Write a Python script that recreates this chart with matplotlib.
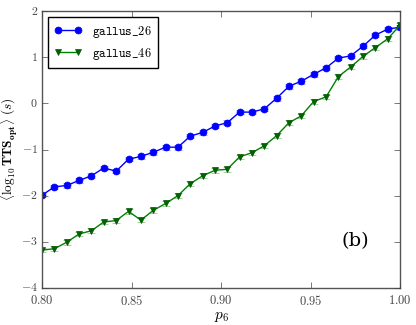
import matplotlib
matplotlib.use('Agg')
import matplotlib.pyplot as plt
from matplotlib.ticker import FuncFormatter
from matplotlib.lines import Line2D

plt.style.use('classic')
plt.rcParams['mathtext.fontset'] = 'cm'
plt.rcParams['font.family'] = 'serif'
plt.rcParams['font.serif'] = ['DejaVu Serif']

p6 = [0.8000, 0.8069, 0.8138, 0.8207, 0.8276, 0.8345, 0.8414, 0.8483, 0.8552, 0.8621,
      0.8690, 0.8759, 0.8828, 0.8897, 0.8966, 0.9034, 0.9103, 0.9172, 0.9241, 0.9310,
      0.9379, 0.9448, 0.9517, 0.9586, 0.9655, 0.9724, 0.9793, 0.9862, 0.9931, 1.0000]

gallus_26 = [-1.99, -1.81, -1.78, -1.67, -1.57, -1.40, -1.47, -1.21, -1.15, -1.06,
             -0.95, -0.95, -0.71, -0.63, -0.49, -0.42, -0.19, -0.19, -0.12, 0.11,
             0.37, 0.48, 0.63, 0.77, 0.98, 1.03, 1.24, 1.48, 1.61, 1.65]
gallus_46 = [-3.18, -3.15, -3.01, -2.83, -2.76, -2.57, -2.54, -2.34, -2.53, -2.32,
             -2.17, -2.00, -1.74, -1.57, -1.45, -1.43, -1.16, -1.07, -0.92, -0.70,
             -0.42, -0.27, 0.04, 0.14, 0.58, 0.79, 1.02, 1.21, 1.40, 1.70]
err_26 = [0.05] * len(p6)
err_46 = [0.05] * len(p6)

fig = plt.figure(figsize=(4.16, 3.25), dpi=100)
ax = fig.add_axes([0.101, 0.114, 0.861, 0.852])

ax.errorbar(p6, gallus_26, yerr=err_26, color='b', marker='o', markersize=5,
            markeredgecolor='b', ecolor='#8080ff', capsize=3, lw=1)
ax.errorbar(p6, gallus_46, yerr=err_46, color='g', marker='v', markersize=5,
            markeredgecolor='#005500', markerfacecolor='#006400', ecolor='#80c080',
            capsize=3, lw=1)

handles = [Line2D([], [], color='b', marker='o', markersize=5, markeredgecolor='b', lw=1),
           Line2D([], [], color='g', marker='v', markersize=5, markeredgecolor='#005500',
                  markerfacecolor='#006400', lw=1)]
leg = ax.legend(handles, [r'$\mathtt{gallus\_26}$', r'$\mathtt{gallus\_46}$'],
                loc='upper left', fontsize=9, numpoints=2, borderpad=0.5,
                handlelength=2.2)
leg.get_frame().set_linewidth(1)

ax.set_xlim(0.80, 1.00)
ax.set_ylim(-4, 2)
ax.set_xticks([0.80, 0.85, 0.90, 0.95, 1.00])
ax.set_yticks([-4, -3, -2, -1, 0, 1, 2])
ax.xaxis.set_major_formatter(FuncFormatter(lambda v, p: r'$%.2f$' % v))
ax.yaxis.set_major_formatter(FuncFormatter(lambda v, p: r'$%d$' % v))
ax.tick_params(labelsize=9, colors='#444444')
ax.tick_params(axis='y', labelsize=8.5, pad=3)
for s in ax.spines.values():
    s.set_color('#555555')

ax.set_xlabel(r'$p_6$', fontsize=11, labelpad=2)
ax.set_ylabel(r'$\langle \log_{10} \mathbf{TTS}_{\mathbf{opt}} \rangle\ (s)$',
              fontsize=9.5)
ax.yaxis.set_label_coords(-0.062, 0.5)
ax.text(0.975, -2.98, '(b)', fontsize=14, ha='center', va='center')

fig.savefig('out.png', dpi=100)
